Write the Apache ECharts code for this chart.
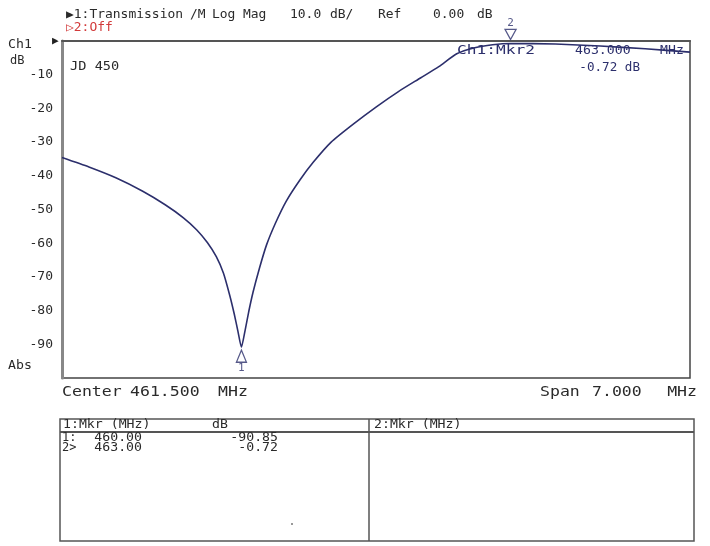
<!DOCTYPE html>
<html>
<head>
<meta charset="utf-8">
<script src="https://cdn.jsdelivr.net/npm/echarts@6/dist/echarts.min.js"></script>
<style>html,body{margin:0;padding:0;background:#fff;}#c{width:710px;height:546px;}</style>
</head>
<body>
<div id="c"></div>
<script>
// ---- data ----
var freqMHz = [458.00, 458.30, 458.60, 458.90, 459.15, 459.35, 459.50, 459.62, 459.72, 459.80, 459.87, 459.92, 459.96, 460.00, 460.04, 460.08, 460.13, 460.20, 460.28, 460.38, 460.50, 460.65, 460.80, 461.00, 461.25, 461.50, 461.75, 462.00, 462.20, 462.40, 462.60, 462.80, 463.00, 463.50, 464.00, 464.50, 465.00];
var traceDb = [-34.6, -37.4, -40.6, -44.6, -48.6, -52.4, -56.0, -59.8, -64.0, -68.9, -75.5, -81.0, -86.0, -90.85, -86.0, -80.5, -74.5, -67.5, -60.5, -54.0, -47.5, -41.3, -36.0, -30.0, -24.6, -19.6, -15.0, -10.9, -7.6, -3.8, -2.0, -1.1, -0.72, -0.9, -1.5, -2.3, -3.3];
var markerFreq = [460.00, 463.00];
var markerDb = [-90.85, -0.72];
var markerNames = ['1', '2'];
var yTicks = [-10, -20, -30, -40, -50, -60, -70, -80, -90];
var centerMHz = 461.5, spanMHz = 7.0, refDb = 0.0, scaleDb = 10.0;

var MONO = '"DejaVu Sans Mono", "Liberation Mono", monospace';
var TXT = '#2a2a2a', NAVY = '#2c2f6c';

function tx(x, y, s, opt) {
  opt = opt || {};
  return {type: 'text', x: x, y: y, silent: true, scaleX: opt.sx || 1,
    style: {text: s, fill: opt.fill || TXT,
      font: (opt.bold ? 'bold ' : '') + (opt.size || 12) + 'px ' + MONO,
      align: opt.align || 'left', verticalAlign: 'middle'}};
}

var chart = echarts.init(document.getElementById('c'));
var gLeft = 62, gTop = 41, gW = 628, gH = 337;

var graphics = [
  tx(66, 15, '\u25B61:Transmission', {sx: 1.08}),
  tx(190, 15, '/M', {sx: 1.08}),
  tx(212, 15, 'Log', {sx: 1.08}),
  tx(243, 15, 'Mag', {sx: 1.08}),
  tx(290, 15, scaleDb.toFixed(1), {sx: 1.08}),
  tx(330, 15, 'dB/', {sx: 1.08}),
  tx(378, 15, 'Ref', {sx: 1.08}),
  tx(433, 15, refDb.toFixed(2), {sx: 1.08}),
  tx(477, 15, 'dB', {sx: 1.08}),
  tx(66, 28, '\u25B72:Off', {fill: '#d23a3a', sx: 1.08}),
  tx(8, 45, 'Ch1', {sx: 1.1}),
  tx(52, 41, '\u25B6', {size: 11, fill: '#222'}),
  tx(10, 61, 'dB', {}),
  tx(8, 366, 'Abs', {sx: 1.1}),
  tx(70, 67, 'JD 450', {size: 13, sx: 1.05}),
  tx(457, 51, 'Ch1:Mkr2', {fill: NAVY, sx: 1.35}),
  tx(575, 51, markerFreq[1].toFixed(3), {fill: NAVY, sx: 1.1}),
  tx(660, 51, 'MHz', {fill: NAVY, sx: 1.1}),
  tx(640, 68, markerDb[1].toFixed(2) + ' dB', {fill: NAVY, align: 'right', sx: 1.05}),
  tx(62, 392, 'Center', {size: 14, sx: 1.18}),
  tx(130, 392, centerMHz.toFixed(3), {size: 14, sx: 1.18}),
  tx(218, 392, 'MHz', {size: 14, sx: 1.18}),
  tx(540, 392, 'Span', {size: 14, sx: 1.18}),
  tx(592, 392, spanMHz.toFixed(3), {size: 14, sx: 1.18}),
  tx(697, 392, 'MHz', {size: 14, align: 'right', sx: 1.18}),
  // table
  {type: 'rect', shape: {x: 60, y: 419, width: 634, height: 122}, silent: true,
    style: {fill: 'none', stroke: '#555', lineWidth: 1.5}},
  {type: 'line', shape: {x1: 60, y1: 432, x2: 694, y2: 432}, silent: true,
    style: {stroke: '#555', lineWidth: 2}},
  {type: 'line', shape: {x1: 369, y1: 419, x2: 369, y2: 541}, silent: true,
    style: {stroke: '#555', lineWidth: 1.5}},
  tx(63, 425, '1:Mkr (MHz)', {sx: 1.1}),
  tx(212, 425, 'dB', {sx: 1.1}),
  tx(374, 425, '2:Mkr (MHz)', {sx: 1.1}),
  {type: 'circle', shape: {cx: 292, cy: 524, r: 1}, silent: true, style: {fill: '#777'}}
];
for (var i = 0; i < markerFreq.length; i++) {
  var y = 438 + i * 10;
  graphics.push(tx(62, y, markerNames[i] + (i === 0 ? ':' : '>'), {}));
  graphics.push(tx(142, y, markerFreq[i].toFixed(2), {align: 'right', sx: 1.1}));
  graphics.push(tx(278, y, markerDb[i].toFixed(2), {align: 'right', sx: 1.1}));
}

var traceData = freqMHz.map(function (f, i) { return [f, traceDb[i]]; });

chart.setOption({
  backgroundColor: '#fff',
  animation: false,
  grid: {left: gLeft, top: gTop, width: gW, height: gH, show: true,
    borderColor: '#444', borderWidth: 1.5, backgroundColor: '#fff'},
  xAxis: {type: 'value', min: centerMHz - spanMHz / 2, max: centerMHz + spanMHz / 2,
    axisLabel: {show: false}, axisTick: {show: false}, splitLine: {show: false},
    axisLine: {show: true, lineStyle: {color: '#555', width: 2}}},
  yAxis: {type: 'value', min: -100, max: 0, interval: 10,
    axisTick: {show: false}, splitLine: {show: false},
    axisLine: {show: true, lineStyle: {color: '#888', width: 3}},
    axisLabel: {margin: 9, color: TXT, fontFamily: MONO, fontSize: 13,
      formatter: function (v) { return yTicks.indexOf(v) >= 0 ? String(v) : ''; }}},
  series: [
    {type: 'line', data: traceData, showSymbol: false, smooth: 0.2,
      lineStyle: {color: NAVY, width: 1.6}, z: 3},
    {type: 'scatter', data: [[markerFreq[0], markerDb[0]]], symbol: 'triangle',
      symbolSize: [10, 12], symbolOffset: [0, 9],
      itemStyle: {color: '#fff', borderColor: NAVY, borderWidth: 1.3},
      label: {show: true, formatter: markerNames[0], position: 'bottom', distance: 0,
        color: NAVY, fontFamily: MONO, fontSize: 11}, z: 4},
    {type: 'scatter', data: [[markerFreq[1], markerDb[1]]], symbol: 'triangle',
      symbolSize: [11, 10], symbolRotate: 180, symbolOffset: [0, -9],
      itemStyle: {color: '#fff', borderColor: NAVY, borderWidth: 1.3},
      label: {show: true, formatter: markerNames[1], position: 'top', distance: 0,
        color: NAVY, fontFamily: MONO, fontSize: 11}, clip: false, z: 4}
  ],
  graphic: graphics
});
</script>
</body>
</html>
